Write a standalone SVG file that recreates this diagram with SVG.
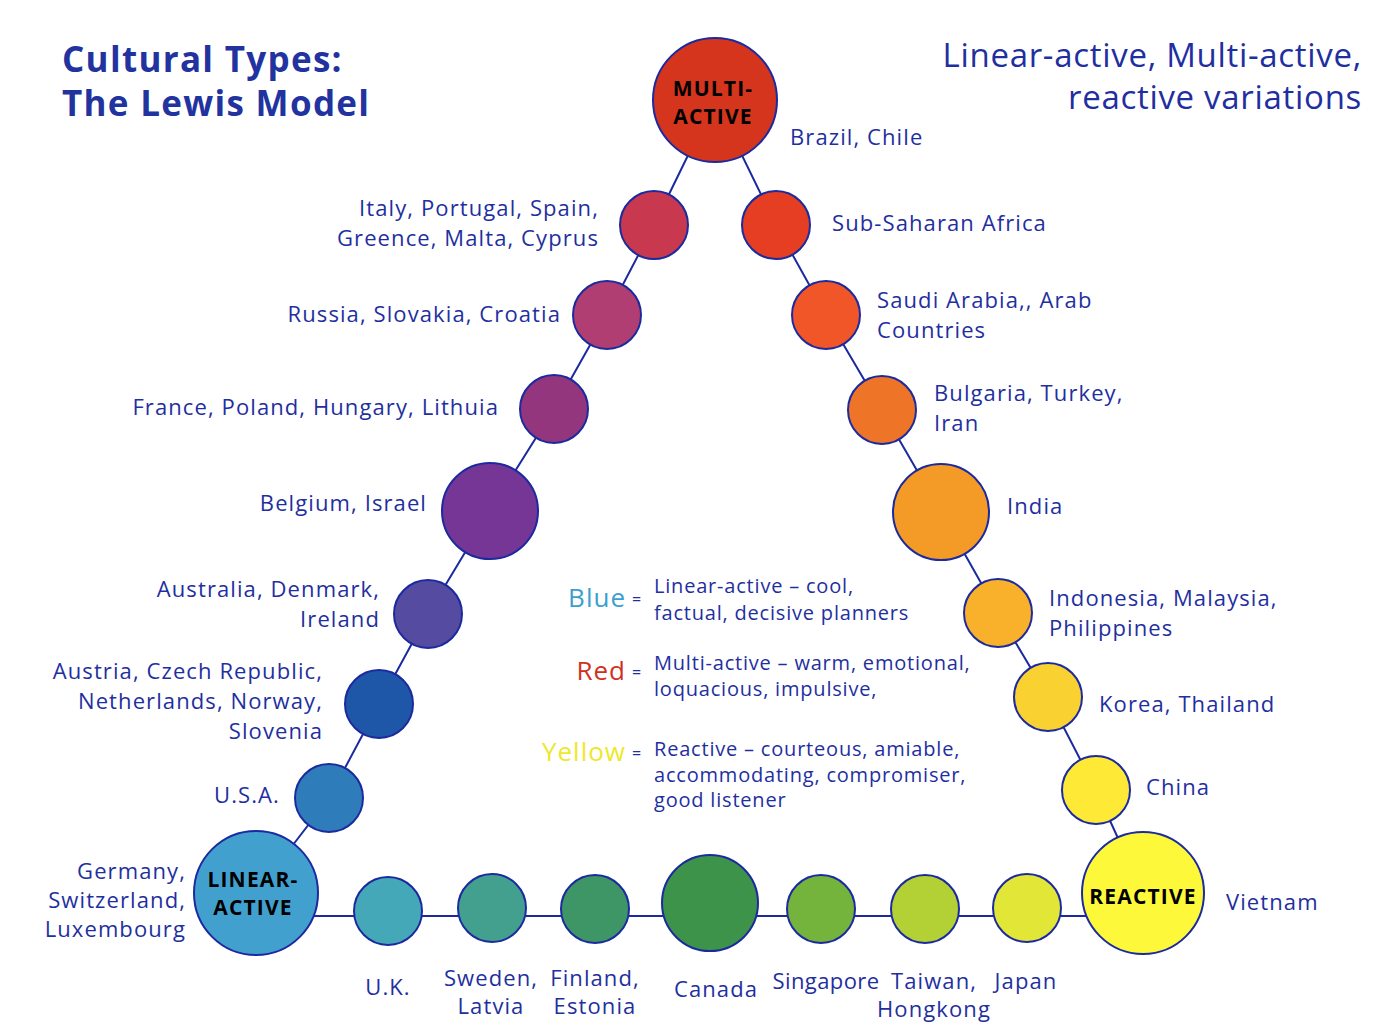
<svg xmlns="http://www.w3.org/2000/svg" width="1400" height="1036" viewBox="0 0 1400 1036">
<style>
.n{stroke:#1B2A9E;stroke-width:2}
.c{stroke:#1B2A9E;stroke-width:2;fill:none}
.t{font-family:"Open Sans",sans-serif;font-size:22px;letter-spacing:1.1px;fill:#1F2F9F}
.r{text-anchor:end}
.m{text-anchor:middle}
.b{font-family:"Open Sans",sans-serif;font-weight:bold;font-size:21px;letter-spacing:1.2px;fill:#000;text-anchor:middle}
.l{font-family:"Open Sans",sans-serif;font-size:20px;letter-spacing:0.8px;fill:#1F2F9F}
.k{font-family:"Open Sans",sans-serif;font-size:26px;letter-spacing:1px;text-anchor:end}
.e{font-family:"Open Sans",sans-serif;font-size:16px;fill:#1F2F9F}
.h{font-family:"Open Sans",sans-serif;font-weight:bold;font-size:35px;letter-spacing:1.3px;fill:#2233A0}
</style>
<rect width="1400" height="1036" fill="#fff"/>
<g id="connectors">
<polyline class="c" points="715,100 654,225 607,315 554,409 490,511 428,614 379,704 329,798 256,893"/>
<polyline class="c" points="715,100 776,225 826,315 882,410 941,512 998,613 1048,697 1096,790 1143,893"/>
<line class="c" x1="256" y1="916" x2="1143" y2="916"/>
</g>
<g id="title">
<text class="h" x="62" y="72">Cultural Types:</text>
<text class="h" x="62" y="116">The Lewis Model</text>
</g>
<g id="subtitle">
<text x="1362" y="67" class="r" style="font-family:'Open Sans',sans-serif;font-size:33px;letter-spacing:0.7px;fill:#1F2F9F">Linear-active, Multi-active,</text>
<text x="1362" y="109" class="r" style="font-family:'Open Sans',sans-serif;font-size:33px;letter-spacing:0.7px;fill:#1F2F9F">reactive variations</text>
</g>
<g id="multi-active"><circle class="n" cx="715" cy="100" r="62" fill="#D4351C"/><text class="b" x="713" y="96">MULTI-</text><text class="b" x="713" y="124">ACTIVE</text><text class="t" x="790" y="145">Brazil, Chile</text></g>
<g id="italy"><circle class="n" cx="654" cy="225" r="34" fill="#C8394F"/><text class="t r" x="599" y="216">Italy, Portugal, Spain,</text><text class="t r" x="599" y="246">Greence, Malta, Cyprus</text></g>
<g id="russia"><circle class="n" cx="607" cy="315" r="34" fill="#B13E72"/><text class="t r" x="561" y="322">Russia, Slovakia, Croatia</text></g>
<g id="france"><circle class="n" cx="554" cy="409" r="34" fill="#93367E"/><text class="t r" x="499" y="415">France, Poland, Hungary, Lithuia</text></g>
<g id="belgium"><circle class="n" cx="490" cy="511" r="48" fill="#763696"/><text class="t r" x="427" y="511">Belgium, Israel</text></g>
<g id="australia"><circle class="n" cx="428" cy="614" r="34" fill="#554BA0"/><text class="t r" x="380" y="597">Australia, Denmark,</text><text class="t r" x="380" y="627">Ireland</text></g>
<g id="austria"><circle class="n" cx="379" cy="704" r="34" fill="#1E56A8"/><text class="t r" x="323" y="679">Austria, Czech Republic,</text><text class="t r" x="323" y="709">Netherlands, Norway,</text><text class="t r" x="323" y="739">Slovenia</text></g>
<g id="usa"><circle class="n" cx="329" cy="798" r="34" fill="#2E7DBA"/><text class="t r" x="280" y="803">U.S.A.</text></g>
<g id="linear-active"><circle class="n" cx="256" cy="893" r="62" fill="#42A0CE"/><text class="b" x="253" y="887">LINEAR-</text><text class="b" x="253" y="915">ACTIVE</text><text class="t r" x="186" y="879">Germany,</text><text class="t r" x="186" y="908">Switzerland,</text><text class="t r" x="186" y="937">Luxembourg</text></g>
<g id="uk"><circle class="n" cx="388" cy="911" r="34" fill="#45A8B8"/><text class="t m" x="388" y="995">U.K.</text></g>
<g id="sweden"><circle class="n" cx="492" cy="908" r="34" fill="#44A08E"/><text class="t m" x="491" y="986">Sweden,</text><text class="t m" x="491" y="1014">Latvia</text></g>
<g id="finland"><circle class="n" cx="595" cy="909" r="34" fill="#3E9566"/><text class="t m" x="595" y="986">Finland,</text><text class="t m" x="595" y="1014">Estonia</text></g>
<g id="canada"><circle class="n" cx="710" cy="903" r="48" fill="#3E934A"/><text class="t m" x="716" y="997">Canada</text></g>
<g id="singapore"><circle class="n" cx="821" cy="909" r="34" fill="#74B33C"/><text class="t m" x="826" y="989" style="letter-spacing:0.4px">Singapore</text></g>
<g id="taiwan"><circle class="n" cx="925" cy="909" r="34" fill="#B3D134"/><text class="t m" x="934" y="989">Taiwan,</text><text class="t m" x="934" y="1017">Hongkong</text></g>
<g id="japan"><circle class="n" cx="1027" cy="908" r="34" fill="#E2E636"/><text class="t m" x="1026" y="989">Japan</text></g>
<g id="reactive"><circle class="n" cx="1143" cy="893" r="61" fill="#FDF93A"/><text class="b" x="1143" y="904">REACTIVE</text><text class="t" x="1226" y="910">Vietnam</text></g>
<g id="china"><circle class="n" cx="1096" cy="790" r="34" fill="#FDE936"/><text class="t" x="1146" y="795">China</text></g>
<g id="korea"><circle class="n" cx="1048" cy="697" r="34" fill="#F9D231"/><text class="t" x="1099" y="712">Korea, Thailand</text></g>
<g id="indonesia"><circle class="n" cx="998" cy="613" r="34" fill="#F9B02A"/><text class="t" x="1049" y="606">Indonesia, Malaysia,</text><text class="t" x="1049" y="636">Philippines</text></g>
<g id="india"><circle class="n" cx="941" cy="512" r="48" fill="#F39A27"/><text class="t" x="1007" y="514">India</text></g>
<g id="bulgaria"><circle class="n" cx="882" cy="410" r="34" fill="#EE7428"/><text class="t" x="934" y="401">Bulgaria, Turkey,</text><text class="t" x="934" y="431">Iran</text></g>
<g id="saudi"><circle class="n" cx="826" cy="315" r="34" fill="#F05628"/><text class="t" x="877" y="308">Saudi Arabia,, Arab</text><text class="t" x="877" y="338">Countries</text></g>
<g id="subsaharan"><circle class="n" cx="776" cy="225" r="34" fill="#E63E22"/><text class="t" x="832" y="231">Sub-Saharan Africa</text></g>
<g id="legend">
<text class="k" x="626" y="607" fill="#3AA0D0">Blue</text><text class="e" x="632" y="605">=</text>
<text class="l" x="654" y="593">Linear-active – cool,</text><text class="l" x="654" y="620">factual, decisive planners</text>
<text class="k" x="626" y="680" fill="#D2301E">Red</text><text class="e" x="632" y="678">=</text>
<text class="l" x="654" y="670">Multi-active – warm, emotional,</text><text class="l" x="654" y="696">loquacious, impulsive,</text>
<text class="k" x="626" y="761" fill="#EEE82A">Yellow</text><text class="e" x="632" y="759">=</text>
<text class="l" x="654" y="756">Reactive – courteous, amiable,</text><text class="l" x="654" y="782">accommodating, compromiser,</text><text class="l" x="654" y="807">good listener</text>
</g>
</svg>
